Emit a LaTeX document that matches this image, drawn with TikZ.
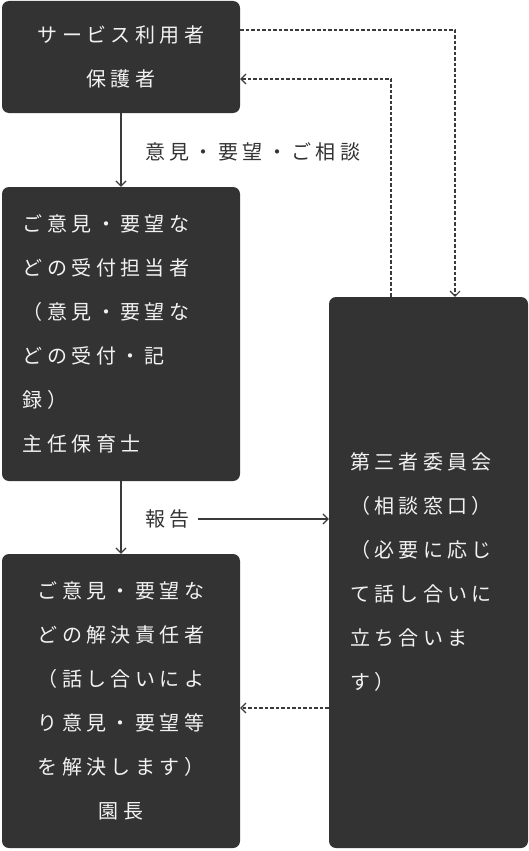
\documentclass[tikz,border=0pt]{standalone}
\usepackage{fontspec}
\newfontfamily\jp[LetterSpace=22]{Noto Sans CJK JP}
\usetikzlibrary{arrows.meta}
\definecolor{boxgray}{HTML}{333333}
\definecolor{boxtext}{HTML}{F2F2F2}
\definecolor{linegray}{HTML}{3A3A3A}
\tikzset{
  box/.style={fill=boxgray,rounded corners=7pt,text=boxtext,inner xsep=21pt,inner ysep=0pt,
    font=\jp\fontsize{20}{44}\selectfont,align=#1},
  box/.default=center,
  lbl/.style={text=boxgray,inner sep=0pt,anchor=west,font=\jp\fontsize{20}{24}\selectfont},
  link/.style={draw=linegray,line width=1.2pt,-{Straight Barb[length=5pt,width=10pt]}},
  back/.style={link,line width=1.1pt,dash pattern=on 3.5pt off 2pt}
}
\begin{document}
\begin{tikzpicture}[x=1pt,y=-1pt]
    \useasboundingbox (0,0) rectangle (529,851);

    \node [box,text width=196pt,minimum height=112pt] (user) at (121,57) {サービス利用者\\保護者};
    \node [box=left,text width=196pt,minimum height=294pt] (staff) at (121,334)
      {ご意見・要望な\\どの受付担当者\\（意見・要望な\\どの受付・記\\録）\\主任保育士};
    \node [box,text width=196pt,minimum height=294pt] (head) at (121,701)
      {ご意見・要望な\\どの解決責任者\\（話し合いによ\\り意見・要望等\\を解決します）\\園長};
    \node [box=left,text width=157pt,minimum height=551pt] (committee) at (428.5,572.5)
      {第三者委員会\\（相談窓口）\\（必要に応じ\\て話し合いに\\立ち合いま\\す）};

    \node [lbl] (lblreq) at (145,152) {意見・要望・ご相談};
    \node [lbl] (lblrep) at (145,519) {報告};

    \draw [link] (user) -- (staff);
    \draw [link] (staff) -- (head);
    \draw [link] ([xshift=8pt]lblrep.east) -- (lblrep.east -| committee.west);

    % dashed routes via the committee
    \coordinate (cw) at ([yshift=-135.5pt]committee.west);
    \draw [back] ([yshift=27pt]user.east) -| ([xshift=26.5pt]committee.north);
    \draw [back] ([xshift=-37.5pt]committee.north) |- ([yshift=-22pt]user.east);
    \draw [back] (cw) -- (cw -| head.east);
\end{tikzpicture}
\end{document}
